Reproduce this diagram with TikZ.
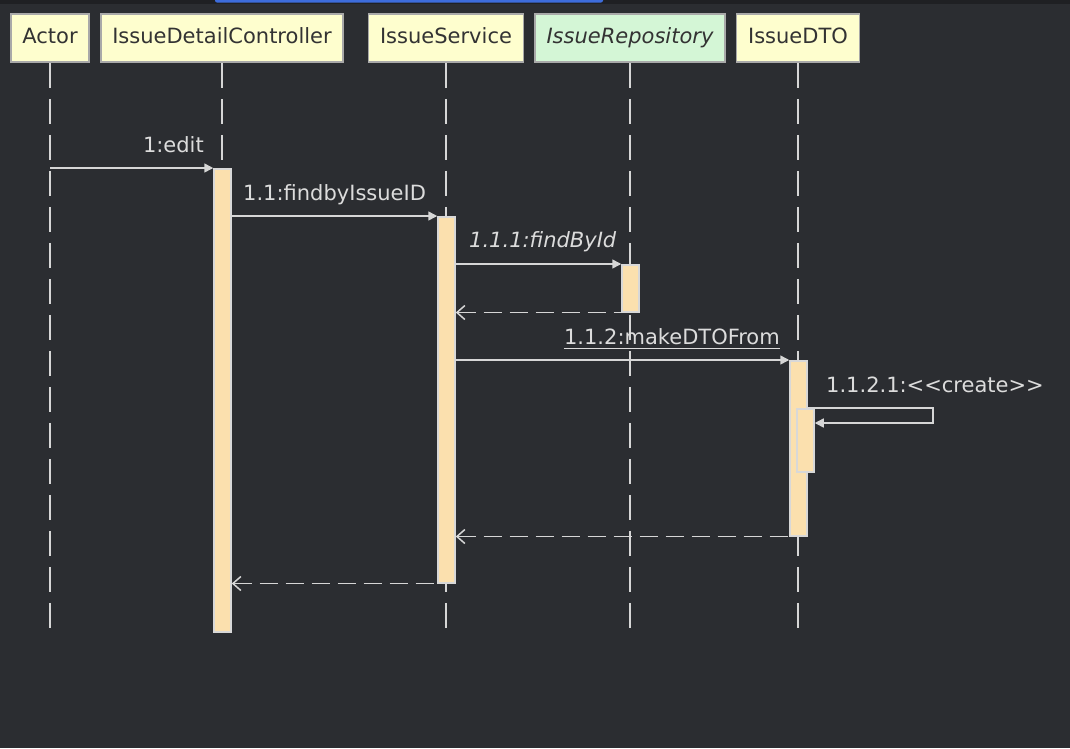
\documentclass[tikz,border=0pt]{standalone}
\usepackage{fontspec}
\setmainfont{DejaVu Sans}
\usetikzlibrary{arrows.meta}
\definecolor{bg}{HTML}{2B2D31}
\definecolor{topstrip}{HTML}{1F2023}
\definecolor{bluebar}{HTML}{3D6CDB}
\definecolor{hdryellow}{HTML}{FEFECE}
\definecolor{hdrgreen}{HTML}{D4F6D6}
\definecolor{hdrborder}{HTML}{A9A9A9}
\definecolor{hdrtext}{HTML}{333333}
\definecolor{actfill}{HTML}{FBE0AE}
\definecolor{actborder}{HTML}{D8D8D8}
\definecolor{linec}{HTML}{D6D6D6}
\definecolor{txt}{HTML}{DCDCDC}
\tikzset{
  hdr/.style={draw=hdrborder, line width=1.5pt, fill=hdryellow, text=hdrtext,
    minimum height=48pt, inner xsep=11.5pt, inner ysep=0pt,
    font=\fontsize{21}{25}\selectfont, text height=15pt, text depth=4pt},
  life/.style={draw=linec, line width=1.5pt, dash pattern=on 25pt off 11pt},
  actbox/.style={draw=actborder, line width=1.5pt, fill=actfill, minimum width=17pt,
    inner sep=0pt, anchor=north},
  msg/.style={draw=linec, line width=1.5pt, -{Triangle[length=9pt,width=9pt]}},
  ret/.style={draw=linec, line width=1.5pt, dash pattern=on 18pt off 8pt,
    {Straight Barb[length=8pt,width=14pt]}-},
  lbl/.style={text=txt, inner sep=0pt, font=\fontsize{21}{25}\selectfont},
}
\begin{document}
\begin{tikzpicture}[x=1pt,y=-1pt]
\useasboundingbox (0,0) rectangle (1070,748);
\fill[bg] (0,0) rectangle (1070,748);
\fill[topstrip] (0,0) rectangle (1070,4);
\fill[bluebar, rounded corners=2pt] (215,-4) rectangle (603,2.5);

% headers
\node[hdr] (actor) at (50,38) {Actor};
\node[hdr] (ctrl) at (222,38) {IssueDetailController};
\node[hdr] (svc) at (446,38) {IssueService};
\node[hdr, fill=hdrgreen] (repo) at (630,38) {\itshape IssueRepository};
\node[hdr] (dto) at (798,38) {IssueDTO};

% lifelines
\coordinate (actorEnd) at (50,628);
\coordinate (ctrlEnd) at (222,628);
\coordinate (svcEnd) at (446,628);
\coordinate (repoEnd) at (630,628);
\coordinate (dtoEnd) at (798,628);
\draw[life] (actor.south) -- (actorEnd);
\draw[life] (ctrl.south) -- (ctrlEnd);
\draw[life] (svc.south) -- (svcEnd);
\draw[life] (repo.south) -- (repoEnd);
\draw[life] (dto.south) -- (dtoEnd);

% activations
\node[actbox, minimum height=463pt] (actC) at (222.5,168) {};
\node[actbox, minimum height=366pt] (actS) at (446.5,216) {};
\node[actbox, minimum height=47pt] (actR) at (630.5,264) {};
\node[actbox, minimum height=175pt] (actD) at (798.5,360) {};
\node[actbox, minimum height=63pt] (actN) at (805.5,408) {};

% messages
\draw[msg] (actor.south |- actC.north) -- (actC.north west);
\node[lbl, anchor=base east] (m1) at (204,152) {1:edit};

\draw[msg] (actC.east |- actS.north) -- (actS.north west);
\node[lbl, anchor=base west] (m11) at (243,200) {1.1:findbyIssueID};

\draw[msg] (actS.east |- actR.north) -- (actR.north west);
\node[lbl, anchor=base west] (m111) at (469,247) {\itshape 1.1.1:findById};

\draw[ret] (actS.east |- actR.south) -- (actR.south west);

\draw[msg] (actS.east |- actD.north) -- (actD.north west);
\node[lbl, anchor=base east] (m112) at (780,344) {1.1.2:makeDTOFrom};
\draw[draw=txt, line width=1.2pt] ([yshift=-4.5pt]m112.base west) -- ([yshift=-4.5pt]m112.base east);

\coordinate (selfTurn) at (933,408);
\draw[msg] (actD.east |- actN.north) -- (selfTurn) |- ([yshift=-15pt]actN.north east);
\node[lbl, anchor=base west] (m1121) at (826,392) {1.1.2.1:<{}<create>{}>};

\draw[ret] (actS.east |- actD.south) -- (actD.south west);
\draw[ret] (actC.east |- actS.south) -- (actS.south west);
\end{tikzpicture}
\end{document}
